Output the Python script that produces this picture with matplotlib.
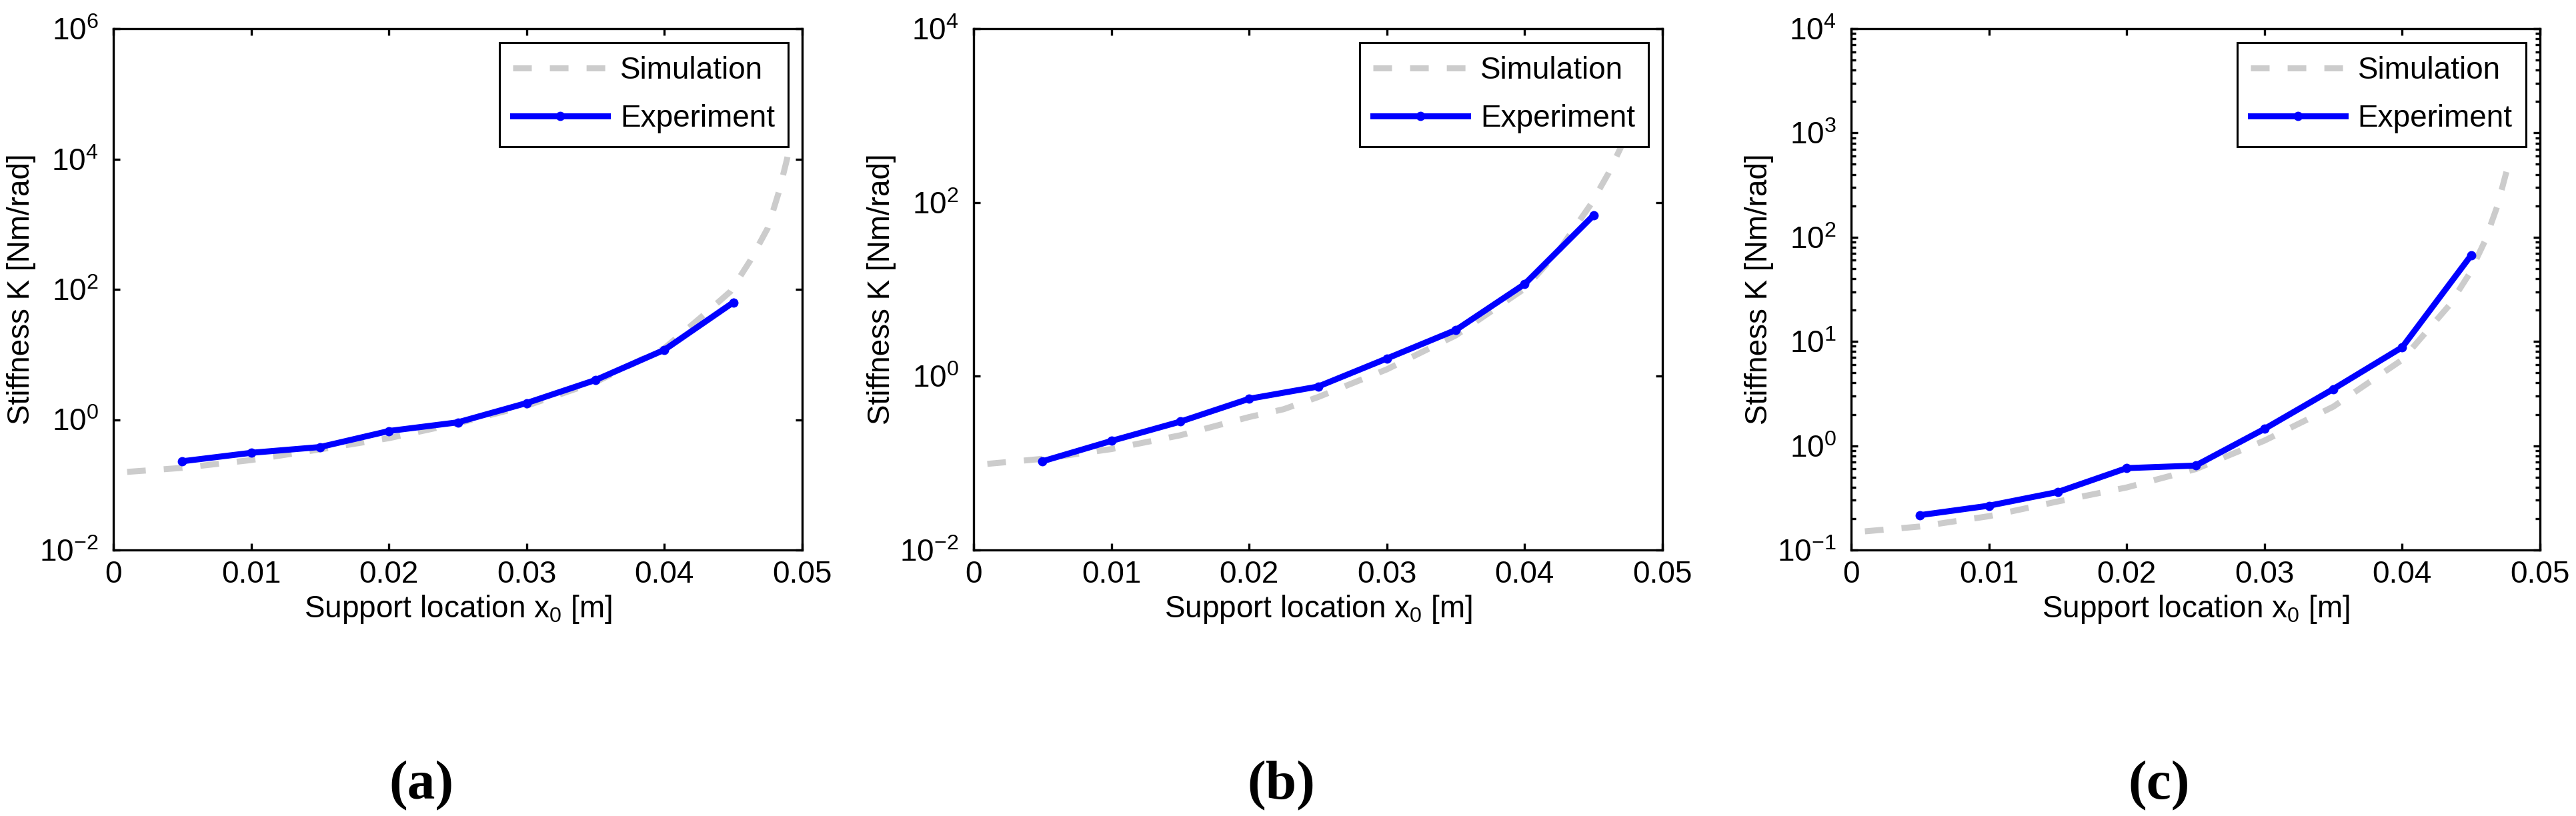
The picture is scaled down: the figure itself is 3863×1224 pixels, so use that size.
import matplotlib
matplotlib.use("Agg")
import matplotlib.pyplot as plt
from matplotlib.ticker import NullLocator, LogLocator, NullFormatter

plt.rcParams['font.family'] = ['Liberation Sans', 'DejaVu Sans']
plt.rcParams['mathtext.fontset'] = 'custom'
plt.rcParams['mathtext.rm'] = 'Liberation Sans'
plt.rcParams['mathtext.it'] = 'Liberation Sans'
plt.rcParams['mathtext.default'] = 'regular'

# experiment: support locations and measured stiffness
exp_x = [0.005, 0.010, 0.015, 0.020, 0.025, 0.030, 0.035, 0.040, 0.045]
exp_a = [0.23, 0.31, 0.38, 0.67, 0.91, 1.8, 4.06, 11.8, 63]
exp_b = [0.105, 0.18, 0.30, 0.55, 0.76, 1.6, 3.4, 11.5, 71]
exp_c = [0.216, 0.266, 0.36, 0.61, 0.645, 1.45, 3.5, 8.8, 67]

# simulation curves
sim_a_x = [0.001, 0.005, 0.010, 0.015, 0.020, 0.025, 0.030, 0.035, 0.040,
           0.0427, 0.0448, 0.0462, 0.0475, 0.0483, 0.0489, 0.0490]
sim_a_k = [0.158, 0.182, 0.24, 0.35, 0.52, 0.88, 1.64, 3.77, 12.5,
           38, 93, 270, 870, 3090, 1.0e4, 1.3e4]
sim_b_x = [0.001, 0.005, 0.010, 0.015, 0.020, 0.0225, 0.025, 0.030, 0.035,
           0.040, 0.0425, 0.0448, 0.0461, 0.0470, 0.0478]
sim_b_k = [0.098, 0.112, 0.145, 0.209, 0.339, 0.417, 0.575, 1.20, 2.95,
           10.2, 28.2, 95, 219, 437, 1260]
sim_c_x = [0.001, 0.005, 0.010, 0.015, 0.020, 0.025, 0.030, 0.035, 0.040,
           0.0418, 0.0434, 0.04485, 0.0460, 0.0469, 0.0476, 0.0478]
sim_c_k = [0.151, 0.168, 0.211, 0.292, 0.398, 0.596, 1.12, 2.37, 6.68,
           12.6, 22.1, 44.0, 91.6, 198, 442, 537]

xticks = [0, 0.01, 0.02, 0.03, 0.04, 0.05]
xticklabels = ['0', '0.01', '0.02', '0.03', '0.04', '0.05']
panel_labels = ['(a)', '(b)', '(c)']

panels = [
    (sim_a_x, sim_a_k, exp_a, (1e-2, 1e6), [1e-2, 1e0, 1e2, 1e4, 1e6], False),
    (sim_b_x, sim_b_k, exp_b, (1e-2, 1e4), [1e-2, 1e0, 1e2, 1e4], False),
    (sim_c_x, sim_c_k, exp_c, (1e-1, 1e4), [1e-1, 1e0, 1e1, 1e2, 1e3, 1e4], True),
]

W, H = 3863, 1224
fig = plt.figure(figsize=(W / 100, H / 100), dpi=100)
lefts = [170, 1460, 2776]
fs = 33

for i, (sx, sk, ek, ylim, yt, minor) in enumerate(panels):
    ax = fig.add_axes([lefts[i] / W, (H - 825) / H, 1033 / W, 782 / H])
    ax.semilogy(sx, sk, color='#CCCCCC', lw=6.5, dashes=(3.1, 3.0),
                label='Simulation', solid_capstyle='butt')
    ax.semilogy(exp_x, ek, color='#0000FF', lw=6.5, marker='o', ms=9,
                label='Experiment')
    ax.set_xlim(0, 0.05)
    ax.set_ylim(*ylim)
    ax.set_xticks(xticks)
    ax.set_xticklabels(xticklabels)
    ax.set_yticks(yt)
    if minor:
        ax.yaxis.set_minor_locator(LogLocator(base=10, subs=range(2, 10), numticks=20))
        ax.yaxis.set_minor_formatter(NullFormatter())
    else:
        ax.yaxis.set_minor_locator(NullLocator())
    ax.xaxis.set_minor_locator(NullLocator())
    ax.tick_params(which='both', direction='in', top=True, right=True,
                   labelsize=fs, width=2.4)
    ax.tick_params(which='major', length=7.2)
    ax.tick_params(which='minor', length=5)
    ax.tick_params(axis='x', pad=11)
    ax.tick_params(axis='y', pad=16)
    for sp in ax.spines.values():
        sp.set_linewidth(2.4)
    ax.set_xlabel('Support location x$_0$ [m]', fontsize=fs, labelpad=4)
    ax.set_ylabel('Stiffness K [Nm/rad]', fontsize=fs, labelpad=4)
    leg = ax.legend(loc='upper right', fontsize=fs, fancybox=False,
                    edgecolor='black', framealpha=1, handlelength=3.1,
                    handletextpad=0.4, borderaxespad=0.45, labelspacing=0.6,
                    borderpad=0.45)
    leg.get_frame().set_linewidth(2.2)
    leg.set_zorder(10)
    cx = (lefts[i] + 1033 / 2 - 55) / W
    fig.text(cx, (H - 1179) / H, panel_labels[i], family='Liberation Serif',
             fontweight='bold', fontsize=60, ha='center', va='center')

fig.savefig('out.png', dpi=100)
